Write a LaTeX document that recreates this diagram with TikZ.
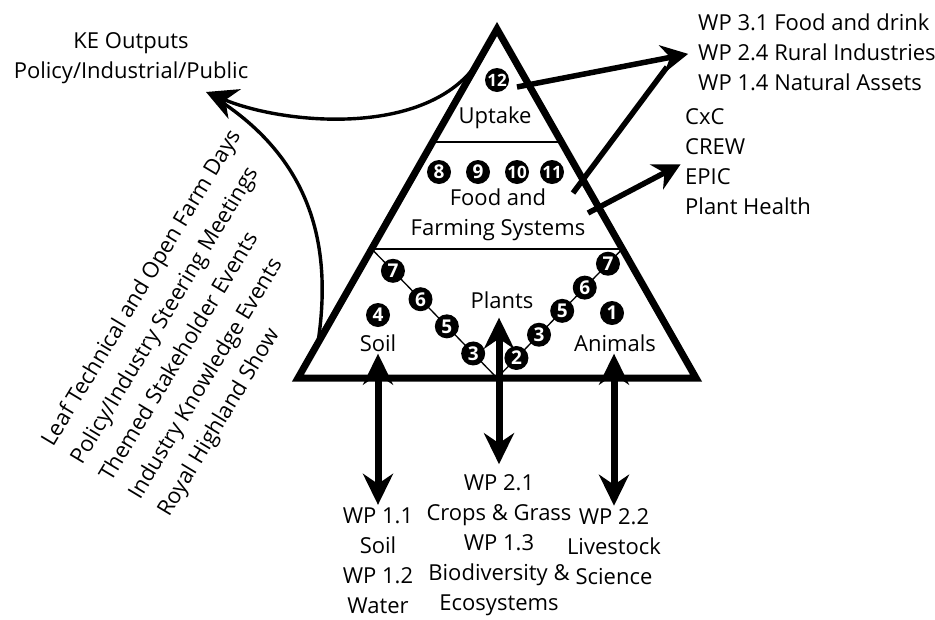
\documentclass[tikz,border=0pt]{standalone}
\usepackage{fontspec}
\setmainfont{Open Sans}
\usetikzlibrary{arrows.meta,calc}

\tikzset{
  txt/.style={font=\fontsize{22}{30}\selectfont,align=center,inner sep=0pt},
  lefttxt/.style={font=\fontsize{22}{30}\selectfont,align=left,inner sep=0pt,anchor=west},
  event/.style={font=\fontsize{22}{30}\selectfont,inner sep=0pt,anchor=base west,rotate=59},
  num/.style={circle,fill=black,text=white,inner sep=0pt,minimum size=24pt,
      font=\fontsize{19}{19}\selectfont\bfseries},
  numtwo/.style={num,font=\fontsize{17}{17}\selectfont\bfseries},
  tier/.style={line width=1.6pt},
  vline/.style={line width=1.3pt},
  wparrow/.style={line width=7pt,{Stealth[length=31pt,width=30pt]}-{Stealth[length=31pt,width=30pt]}},
  outarrow/.style={line width=5.5pt,-{Stealth[length=27pt,width=28pt]}},
  kearrow/.style={line width=3.4pt,-{Stealth[length=31pt,width=32pt]}}
}

\begin{document}
\begin{tikzpicture}[x=1pt,y=-1pt]

          \useasboundingbox (0,0) rectangle (935,619);

          % Pyramid
          \coordinate (apex) at (497,29);
          \coordinate (bl) at (298,378);
          \coordinate (br) at (696,378);
          \draw[line width=7pt] (apex) -- (br) -- (bl) -- cycle;
          \draw[tier] ($(apex)!0.324!(bl)$) -- ($(apex)!0.324!(br)$);
          \draw[tier] ($(apex)!0.630!(bl)$) coordinate (vl)
              -- ($(apex)!0.630!(br)$) coordinate (vr);

          % Links between soil, plants and animals
          \coordinate (vb) at (497,378);
          \draw[vline] (vl) -- (vb) -- (vr);
          \path (vl) -- (vb)
              node[num,pos=0.17] (l7) {7}
              node[num,pos=0.39] (l6) {6}
              node[num,pos=0.60] (l5) {5}
              node[num,pos=0.81] (l3) {3};
          \path (vb) -- (vr)
              node[num,pos=0.155] (r2) {2}
              node[num,pos=0.335] (r3) {3}
              node[num,pos=0.52] (r5) {5}
              node[num,pos=0.70] (r6) {6}
              node[num,pos=0.885] (r7) {7};

          % Top tier
          \node[numtwo] (n12) at (497,80) {12};
          \node[txt] (uptake) at (495,118) {Uptake};

          % Middle tier
          \node[num] (n8) at (439,172) {8};
          \node[num] (n9) at (478,172) {9};
          \node[numtwo] (n10) at (517,172) {10};
          \node[numtwo] (n11) at (552,172) {11};
          \node[txt] (food) at (498,215) {Food and\\Farming Systems};

          % Bottom tier
          \node[num] (n4) at (378,315) {4};
          \node[txt] (soil) at (378,343) {Soil};
          \node[txt] (plants) at (502,300) {Plants};
          \node[num] (n1) at (612,313) {1};
          \node[txt] (animals) at (615,343) {Animals};

          % Work packages below
          \node[txt] (wpsoil) at (378,561) {WP 1.1\\Soil\\WP 1.2\\Water};
          \node[txt] (wpplants) at (499,545)
              {WP 2.1\\Crops \& Grass\\WP 1.3\\Biodiversity \&\\Ecosystems};
          \node[txt] (wpanimals) at (614,547) {WP 2.2\\Livestock\\Science};
          \draw[wparrow,shorten <=2pt,shorten >=3pt] (soil.south) -- (wpsoil.north);
          \draw[wparrow,shorten <=9pt,shorten >=10pt]
              (plants.south -| wpplants.north) -- (wpplants.north);
          \draw[wparrow,shorten <=2pt,shorten >=3pt]
              (animals.south -| wpanimals.north) -- (wpanimals.north);

          % Outputs to the right
          \node[lefttxt] (wpout) at (698,52)
              {WP 3.1 Food and drink\\WP 2.4 Rural Industries\\WP 1.4 Natural Assets};
          \node[lefttxt] (centres) at (685,162) {CxC\\CREW\\EPIC\\Plant Health};
          \coordinate (upout) at (517,87);
          \coordinate (foodout) at (573,193);
          \coordinate (wpjoin) at (667,67);
          \coordinate (sysout) at (588,213);
          \draw[outarrow,shorten >=10pt] (upout) -- (wpout.west);
          \draw[line width=5.5pt] (foodout) -- (wpjoin);
          \draw[outarrow,shorten >=5pt] (sysout) -- (centres.west);

          % KE outputs and events
          \node[txt] (ke) at (131,58) {KE Outputs\\Policy/Industrial/Public};
          \coordinate (ketip) at (206,92);
          \coordinate (topjoin) at ($(apex)!0.063!(bl)$);
          \coordinate (lowjoin) at ($(apex)!0.9!(bl)$);
          \draw[kearrow] (topjoin) .. controls (440,140) and (285,125) .. (ketip);
          \draw[line width=3.4pt,shorten >=8pt]
              (lowjoin) .. controls (332,250) and (315,160) .. (ketip);

          \node[event] (ev1) at (53,448) {Leaf Technical and Open Farm Days};
          \node[event] (ev2) at (82,466) {Policy/Industry Steering Meetings};
          \node[event] (ev3) at (111,483) {Themed Stakeholder Events};
          \node[event] (ev4) at (140,501) {Industry Knowledge Events};
          \node[event] (ev5) at (169,518) {Royal Highland Show};

\end{tikzpicture}
\end{document}
